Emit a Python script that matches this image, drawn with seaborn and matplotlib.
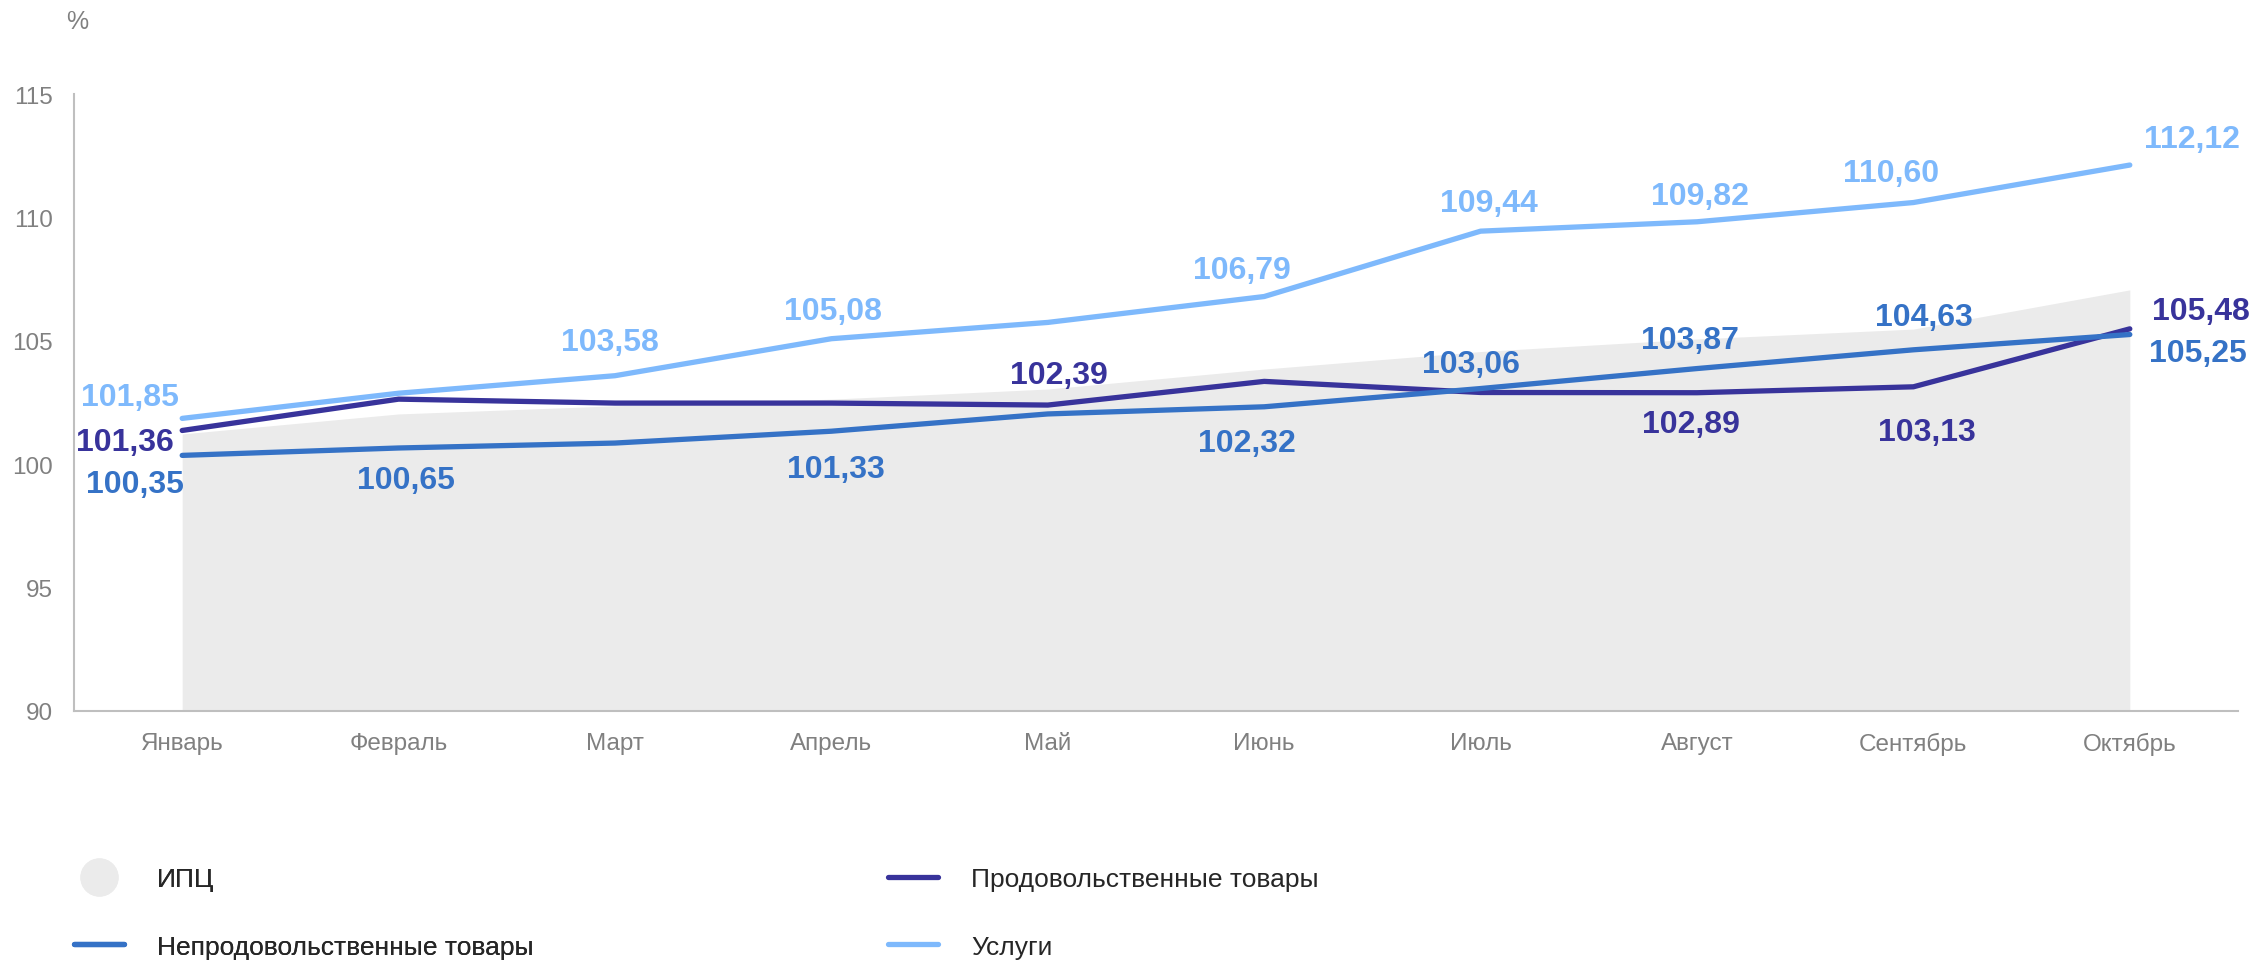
import numpy as np
import pandas as pd
import matplotlib
matplotlib.use('Agg')
import matplotlib.pyplot as plt
from matplotlib.lines import Line2D
import seaborn as sns

# values
months = ['Январь', 'Февраль', 'Март', 'Апрель', 'Май', 'Июнь',
          'Июль', 'Август', 'Сентябрь', 'Октябрь']
cpi = [101.22, 102.03, 102.36, 102.63, 103.04, 103.85, 104.56, 105.07, 105.47, 107.06]
food = [101.36, 102.63, 102.47, 102.47, 102.39, 103.35, 102.90, 102.89, 103.13, 105.48]
nonfood = [100.35, 100.65, 100.85, 101.33, 102.03, 102.32, 103.06, 103.87, 104.63, 105.25]
services = [101.85, 102.87, 103.58, 105.08, 105.74, 106.79, 109.44, 109.82, 110.60, 112.12]

names = ['Продовольственные товары', 'Непродовольственные товары', 'Услуги']
colors = {'Продовольственные товары': '#38339B',
          'Непродовольственные товары': '#3572C6',
          'Услуги': '#7EB9FC'}
area_color = '#EBEBEB'

# label offsets in pixels (dx, dy up), only for labelled points
label_pos = {
    'Услуги': {0: (-52, 21), 2: (-5, 34), 3: (2, 28), 5: (-22, 27), 6: (8, 28),
               7: (3, 26), 8: (-22, 30), 9: (62, 26)},
    'Непродовольственные товары': {0: (-47, -29), 1: (7, -32), 3: (4, -38), 5: (-17, -36),
                                   6: (-10, 25), 7: (-7, 29), 8: (10, 33), 9: (68, -18)},
    'Продовольственные товары': {0: (-57, -12), 4: (11, 30), 7: (-6, -31), 8: (13, -45),
                                 9: (71, 18)},
}

sns.set_style('white')
plt.rcParams['font.family'] = ['Liberation Sans', 'DejaVu Sans']

x = np.arange(len(months))
df = pd.DataFrame({
    'x': np.tile(x, 3),
    'value': food + nonfood + services,
    'series': np.repeat(names, len(months)),
})

fig = plt.figure(figsize=(22.54, 9.62), dpi=100)
ax = fig.add_axes([74 / 2254, 1 - 711.7 / 962, (2238 - 74) / 2254, (711.7 - 95) / 962])

ax.fill_between(x, 90, cpi, color=area_color, lw=0, zorder=1)
sns.lineplot(data=df, x='x', y='value', hue='series', hue_order=names,
             palette=colors, linewidth=3.8, legend=False, ax=ax,
             solid_capstyle='round', zorder=3)

series_vals = {'Продовольственные товары': food,
               'Непродовольственные товары': nonfood,
               'Услуги': services}
for name, offs in label_pos.items():
    vals = series_vals[name]
    for i, (dx, dy) in offs.items():
        ax.annotate(f'{vals[i]:.2f}'.replace('.', ','), (x[i], vals[i]),
                    xytext=(dx * 0.72, dy * 0.72), textcoords='offset points',
                    ha='center', va='center', fontsize=23, fontweight='bold',
                    color=colors[name], annotation_clip=False, zorder=5)

ax.set_xlim(-0.5, len(months) - 0.5)
ax.set_ylim(90, 115)
ax.set_yticks([90, 95, 100, 105, 110, 115])
ax.set_xticks(x)
ax.set_xticklabels(months)
ax.set_xlabel('')
ax.set_ylabel('')
ax.tick_params(axis='both', length=0, pad=15, labelsize=17.5, labelcolor='#808080')
for s in ['top', 'right']:
    ax.spines[s].set_visible(False)
for s in ['left', 'bottom']:
    ax.spines[s].set_color('#BFBFBF')
    ax.spines[s].set_linewidth(1.5)

# unit label above the y axis
fig.text(66 / 2254, 1 - 22 / 962, '%', ha='left', va='center', fontsize=18, color='#808080')

# legend, two columns
h_cpi = Line2D([], [], marker='o', linestyle='none', markersize=26.5,
               markerfacecolor=area_color, markeredgecolor=area_color)
h = {n: Line2D([], [], color=colors[n], linewidth=3.8) for n in names}
leg_kw = dict(frameon=False, fontsize=19, handlelength=1.9, handletextpad=1.25,
              labelspacing=1.65, borderpad=0, borderaxespad=0, loc='upper left',
              labelcolor='#262626')
leg1 = fig.legend([h_cpi, h['Непродовольственные товары']],
                  ['ИПЦ', 'Непродовольственные товары'],
                  bbox_to_anchor=(74 / 2254, 1 - 868 / 962), **leg_kw)
fig.add_artist(leg1)
fig.legend([h['Продовольственные товары'], h['Услуги']],
           ['Продовольственные товары', 'Услуги'],
           bbox_to_anchor=(888 / 2254, 1 - 868 / 962), **leg_kw)

fig.savefig('out.png', dpi=100)
